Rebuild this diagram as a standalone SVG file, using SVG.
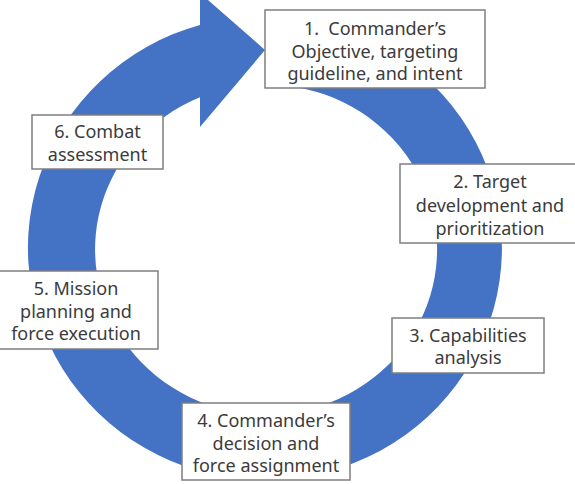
<svg xmlns="http://www.w3.org/2000/svg" width="575" height="484" viewBox="0 0 575 484">
<style>
.box{fill:#ffffff;stroke:#7f7f7f;stroke-width:1.5}
.t{font-family:"Noto Sans","Open Sans","Liberation Sans",sans-serif;font-size:18px;fill:#3b3b3b;text-anchor:middle}
.ring{fill:#4472c4}
</style>
<rect width="575" height="484" fill="#ffffff"/>
<g id="connectors">
<path class="ring" d="M 292.5 17.6 A 237 232 0 1 1 200 24.9 L 200 -7 L 265 50 L 200 127 L 200 97.3 A 171 165 0 1 0 285 85.5 Z"/>
</g>
<g id="node1">
<rect class="box" x="265" y="10" width="220" height="78"/>
<text class="t" x="375" y="35" xml:space="preserve">1.  Commander’s</text>
<text class="t" x="375" y="58">Objective, targeting</text>
<text class="t" x="375" y="80">guideline, and intent</text>
</g>
<g id="node2">
<rect class="box" x="400" y="164" width="178" height="79"/>
<text class="t" x="490" y="188">2. Target</text>
<text class="t" x="490" y="212">development and</text>
<text class="t" x="490" y="235">prioritization</text>
</g>
<g id="node3">
<rect class="box" x="392" y="318" width="152" height="55"/>
<text class="t" x="468" y="342">3. Capabilities</text>
<text class="t" x="468" y="364">analysis</text>
</g>
<g id="node4">
<rect class="box" x="182" y="403" width="168" height="77"/>
<text class="t" x="266" y="427">4. Commander’s</text>
<text class="t" x="266" y="450">decision and</text>
<text class="t" x="266" y="472">force assignment</text>
</g>
<g id="node5">
<rect class="box" x="-4" y="271" width="162" height="78"/>
<text class="t" x="76" y="295">5. Mission</text>
<text class="t" x="76" y="318">planning and</text>
<text class="t" x="76" y="340">force execution</text>
</g>
<g id="node6">
<rect class="box" x="32" y="115" width="131" height="54"/>
<text class="t" x="97.5" y="138">6. Combat</text>
<text class="t" x="97.5" y="161">assessment</text>
</g>
</svg>
